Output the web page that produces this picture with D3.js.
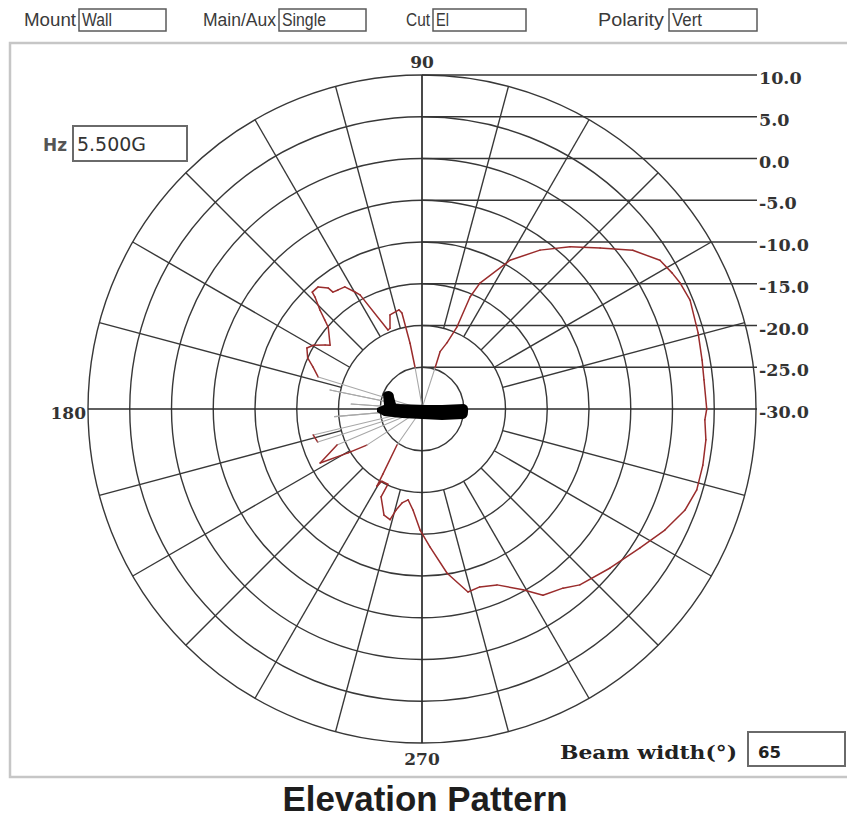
<!DOCTYPE html>
<html>
<head>
<meta charset="utf-8">
<script src="https://cdn.jsdelivr.net/npm/d3@7"></script>
<style>
  html, body { margin: 0; padding: 0; background: #fff; }
  svg { display: block; }
</style>
</head>
<body>
<svg id="chart" width="847" height="817"></svg>
<script>
// Antenna elevation-cut radiation pattern (5.5 GHz, wall mount)

// Header fields
const fieldLabels = ["Mount", "Main/Aux", "Cut", "Polarity"];
const fieldValues = ["Wall", "Single", "El", "Vert"];
const frequencyText = "5.500G";
const beamWidthDeg = 65;

// Radial gain rings (dB) and angle labels (deg)
const ringValues = [-30, -25, -20, -15, -10, -5, 0, 5, 10];
const angleLabels = [90, 180, 270];
const spokeAngles = d3.range(15, 360, 15).filter(a => a % 90 !== 0);

// Measured pattern: angle (deg, counter-clockwise from 0) and gain (dB)
const angleDeg = [
  0, 5.9, 9.9, 15.4, 22.1, 26.0, 28.5, 32.0, 37.0, 42.1, 47.6, 53.4, 59.4,
  65.3, 66.8, 66.9, 69.3, 72.5, 72.4, 80, 99.5, 100.3, 101.8, 103.1, 108.8,
  111.6, 113.3, 118.5, 119.8, 122.3, 125.2, 127.3, 127.8, 130.4, 133.2, 133.7,
  135.9, 137.5, 138.9, 145.2, 146.6, 149.6, 152.1, 155.9, 158.9, 162.9,
  165, 168.3, 171, 176, 180, 185, 190, 193.4, 197.6, 200, 202.9, 207.9,
  210.7, 213.2, 220, 235.2, 239.0, 239.7, 240.9, 245.6, 245.0, 250.3, 253.9,
  255.6, 258.0, 261.3, 264.9, 269.1, 273.3, 278.7, 284.1, 288.0, 293.1,
  299.2, 303.0, 308.2, 311.9, 319.8, 327.5, 333.5, 339.0, 343.6, 348.7,
  353.8, 357.8, 360
];
const gainDb = [
  4.1, 3.95, 4.05, 4.3, 4.65, 4.4, 4.1, 3.6, 1.6, -1.25, -3.7, -6.3, -9.3,
  -13.4, -15.4, -19.3, -21.5, -22.8, -24.85, -29.8, -24.9, -22.0, -18.25, -17.8, -18.1,
  -19.6, -19.7, -14.45, -13.85, -12.7, -12.55, -12.4, -11.65, -10.8, -10.8, -11.45,
  -13.0, -14.2, -15.1, -16.6, -16.1, -14.9, -14.4, -15.0, -16.0, -17.0,
  -30, -18.75, -30, -21.5, -30, -19.5, -30, -16.6, -16.9, -30, -18.95, -16.2,
  -19.7, -22.1, -30, -24.75, -20.9, -19.3, -20.1, -20.1, -18.4, -16.5, -16.2,
  -17.5, -18.5, -19.0, -17.85, -15.5, -13.45, -10.1, -7.4, -7.6, -7.1,
  -5.2, -3.4, -2.7, -1.7, -0.5, 0.96, 2.5, 3.75, 4.3, 4.3,
  4.2, 3.9, 4.1
];
// Values at or below this are treated as the noise floor and drawn grey
const floorDb = -28;

// ---- layout ----
const cx = 422, cy = 409, R = 334;
const labelRight = 757;
const svg = d3.select("#chart");

const rScale = d3.scaleLinear().domain([-30, 10]).range([0, R]);
const rad = d => d * Math.PI / 180;
const px = (deg, db) => cx + rScale(db) * Math.cos(rad(deg));
const py = (deg, db) => cy - rScale(db) * Math.sin(rad(deg));

// Outer panel frame
svg.append("rect")
  .attr("x", 10).attr("y", 43).attr("width", 850).attr("height", 734)
  .attr("fill", "none").attr("stroke", "#c6c6c6").attr("stroke-width", 2.5);

// Header: label + input-style boxes
const headerLayout = [
  { lx: 24, ll: 52, bx: 79, bw: 87, vl: 30 },
  { lx: 203, ll: 73, bx: 279, bw: 87, vl: 44 },
  { lx: 406, ll: 24, bx: 433, bw: 93, vl: 13 },
  { lx: 598, ll: 66, bx: 669, bw: 88, vl: 30 }
];
const header = svg.append("g").attr("font-family", "'Liberation Sans Narrow', 'Arial Narrow', 'Liberation Sans', sans-serif")
  .attr("font-size", 17.5).attr("fill", "#3a3a3a");
fieldLabels.forEach((lab, i) => {
  const L = headerLayout[i];
  header.append("text").attr("x", L.lx).attr("y", 26).text(lab)
    .attr("textLength", L.ll).attr("lengthAdjust", "spacingAndGlyphs");
  header.append("rect").attr("x", L.bx).attr("y", 9).attr("width", L.bw).attr("height", 22)
    .attr("fill", "#fff").attr("stroke", "#5a5a5a").attr("stroke-width", 1.5);
  header.append("text").attr("x", L.bx + 3).attr("y", 26).text(fieldValues[i])
    .attr("textLength", L.vl).attr("lengthAdjust", "spacingAndGlyphs");
});

// Grid
const grid = svg.append("g").attr("fill", "none");
grid.selectAll("circle.ring").data(ringValues.filter(v => v > -30)).join("circle")
  .attr("class", "ring")
  .attr("cx", cx).attr("cy", cy).attr("r", d => rScale(d))
  .attr("stroke", "#383838").attr("stroke-width", 1.4);

grid.selectAll("line.spoke").data(spokeAngles).join("line")
  .attr("class", "spoke")
  .attr("x1", d => px(d, -20)).attr("y1", d => py(d, -20))
  .attr("x2", d => px(d, 10)).attr("y2", d => py(d, 10))
  .attr("stroke", "#383838").attr("stroke-width", 1.4);

// Vertical axis (90-270) and horizontal axis (180 to the -30 label)
grid.append("line")
  .attr("x1", cx).attr("y1", cy - R).attr("x2", cx).attr("y2", cy + R)
  .attr("stroke", "#2a2a2a").attr("stroke-width", 1.7);
grid.append("line")
  .attr("x1", cx - R).attr("y1", cy).attr("x2", labelRight).attr("y2", cy)
  .attr("stroke", "#2a2a2a").attr("stroke-width", 1.7);

// Ring value leader lines
grid.selectAll("line.lead").data(ringValues.filter(v => v > -30)).join("line")
  .attr("class", "lead")
  .attr("x1", cx).attr("y1", d => cy - rScale(d))
  .attr("x2", labelRight).attr("y2", d => cy - rScale(d))
  .attr("stroke", "#353535").attr("stroke-width", 1.6);

// Ring value labels
const serif = "'DejaVu Serif', serif";
svg.append("g").attr("font-family", serif).attr("font-weight", "bold")
  .attr("font-size", 17.5).attr("fill", "#333")
  .selectAll("text").data(ringValues).join("text")
  .attr("x", labelRight + 2).attr("y", d => cy - rScale(d) + 9)
  .text(d => d.toFixed(1));

// Angle labels
const angLab = svg.append("g").attr("font-family", serif).attr("font-weight", "bold")
  .attr("font-size", 17).attr("fill", "#333");
angLab.append("text").attr("x", cx).attr("y", cy - R - 7).attr("text-anchor", "middle").text(angleLabels[0]);
angLab.append("text").attr("x", cx - R - 2).attr("y", cy + 10).attr("text-anchor", "end").text(angleLabels[1]);
angLab.append("text").attr("x", cx).attr("y", cy + R + 22).attr("text-anchor", "middle").text(angleLabels[2]);

// Pattern trace
const pts = angleDeg.map((a, i) => ({ a, db: gainDb[i] }));
const radial = d3.lineRadial()
  .angle(d => rad(90 - d.a))
  .radius(d => rScale(d.db));
const trace = svg.append("g").attr("transform", `translate(${cx},${cy})`).attr("fill", "none")
  .attr("stroke-linejoin", "round").attr("stroke-linecap", "round");
d3.pairs(pts).forEach(([p, q]) => {
  const low = p.db <= floorDb || q.db <= floorDb;
  trace.append("path")
    .attr("d", radial([p, q]))
    .attr("stroke", low ? "#a8a8a8" : "#9a2c2c")
    .attr("stroke-width", low ? 1.1 : 1.5);
});

// Orientation icon: aircraft silhouette at the pattern centre, nose toward 0 deg
svg.append("path")
  .attr("transform", `translate(${cx},${cy})`)
  .attr("d", "M-45,-1 L-38,-4 L-39,-15 Q-38,-18 -33,-18 Q-28,-17 -28,-12 L-26,-5 L5,-4 L20,-4 L42,-5 Q47,-4 46,3 Q46,9 41,10 L20,11 L0,10 L-20,9 L-38,7 L-45,3 Z")
  .attr("fill", "#000");

// Frequency field
const sans = "'DejaVu Sans', Verdana, sans-serif";
svg.append("text").attr("x", 43).attr("y", 151).attr("font-family", sans).attr("font-weight", "bold")
  .attr("font-size", 17).attr("fill", "#555").text("Hz")
  .attr("textLength", 24).attr("lengthAdjust", "spacingAndGlyphs");
svg.append("rect").attr("x", 73).attr("y", 126).attr("width", 114).attr("height", 35)
  .attr("fill", "#fff").attr("stroke", "#6a6a6a").attr("stroke-width", 2);
svg.append("text").attr("x", 77).attr("y", 151).attr("font-family", sans)
  .attr("font-size", 19).attr("fill", "#333").text(frequencyText)
  .attr("textLength", 69).attr("lengthAdjust", "spacingAndGlyphs");

// Beam width field
svg.append("text").attr("x", 560).attr("y", 759).attr("font-family", serif).attr("font-weight", "bold")
  .attr("font-size", 19).attr("fill", "#222").text("Beam width(\u00b0)")
  .attr("textLength", 177).attr("lengthAdjust", "spacingAndGlyphs");
svg.append("rect").attr("x", 748).attr("y", 732).attr("width", 97).attr("height", 34)
  .attr("fill", "#fff").attr("stroke", "#6a6a6a").attr("stroke-width", 2);
svg.append("text").attr("x", 758).attr("y", 758).attr("font-family", sans).attr("font-weight", "bold")
  .attr("font-size", 16).attr("fill", "#222").text(beamWidthDeg)
  .attr("textLength", 23).attr("lengthAdjust", "spacingAndGlyphs");

// Title
svg.append("text").attr("x", 425).attr("y", 811).attr("text-anchor", "middle")
  .attr("font-family", "'Liberation Sans', Arial, sans-serif").attr("font-weight", "bold")
  .attr("font-size", 35).attr("fill", "#1e1e1e").text("Elevation Pattern")
  .attr("textLength", 285).attr("lengthAdjust", "spacingAndGlyphs");
</script>
</body>
</html>
